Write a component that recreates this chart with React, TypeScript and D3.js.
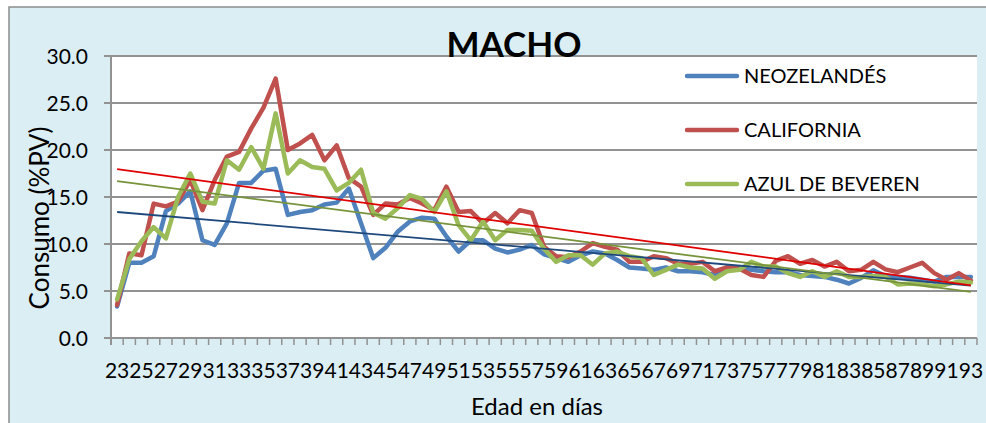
import React from "react";
import * as d3 from "d3";

const days: number[] = d3.range(23, 94);
const seriesNames = ["NEOZELANDÉS", "CALIFORNIA", "AZUL DE BEVEREN"];
const neozelandes = [
  3.35, 8.0, 8.0, 8.7, 13.5, 14.3, 15.6, 10.4, 9.9, 12.2, 16.5, 16.5, 17.8, 18.0, 13.1, 13.4,
  13.6, 14.2, 14.4, 15.9, 12.2, 8.5, 9.6, 11.3, 12.4, 12.8, 12.7, 10.8, 9.2, 10.4, 10.4, 9.5,
  9.1, 9.4, 9.9, 8.9, 8.5, 8.1, 8.8, 9.2, 9.0, 8.3, 7.5, 7.4, 7.25, 7.5, 7.1, 7.1, 7.0, 6.7,
  7.5, 7.5, 7.25, 7.1, 7.0, 7.0, 6.7, 6.6, 6.5, 6.2, 5.8, 6.4, 7.2, 6.6, 6.5, 6.4, 6.2, 6.0,
  6.5, 6.5, 6.5,
];
const california = [
  3.5, 9.0, 8.8, 14.3, 14.0, 14.5, 16.8, 13.6, 16.8, 19.3, 19.8, 22.3, 24.5, 27.6, 20.0, 20.7,
  21.6, 18.9, 20.5, 17.0, 16.1, 13.1, 14.3, 14.2, 14.9, 14.3, 13.6, 16.1, 13.4, 13.5, 12.2,
  13.3, 12.2, 13.6, 13.3, 9.7, 8.7, 8.6, 9.2, 10.1, 9.7, 9.4, 8.1, 8.1, 8.7, 8.5, 7.9, 7.9,
  8.1, 7.1, 7.5, 7.4, 6.7, 6.5, 8.2, 8.7, 7.9, 8.3, 7.6, 8.1, 7.1, 7.25, 8.1, 7.3, 7.0, 7.5,
  8.0, 6.9, 6.2, 6.9, 6.1,
];
const azulBeveren = [
  4.1, 8.4, 10.3, 11.8, 10.6, 15.0, 17.5, 14.5, 14.3, 18.9, 17.9, 20.3, 18.0, 23.9, 17.5, 18.9,
  18.2, 18.0, 15.7, 16.5, 17.9, 13.3, 12.7, 13.8, 15.2, 14.8, 13.4, 15.6, 12.0, 10.4, 12.4,
  10.4, 11.5, 11.5, 11.4, 9.5, 8.1, 8.8, 8.8, 7.8, 9.0, 9.2, 8.7, 8.5, 6.7, 7.25, 7.8, 7.5,
  7.4, 6.3, 7.1, 7.25, 8.1, 7.6, 7.6, 6.9, 6.5, 7.1, 6.5, 7.1, 6.5, 6.5, 6.6, 6.5, 5.7, 5.8,
  5.7, 5.5, 5.7, 6.0, 5.9,
];
const yTicks = [0, 5, 10, 15, 20, 25, 30];
const seriesColors = ["#4F81BD", "#C0504D", "#9BBB59"];
const trendColors = ["#1F497D", "#E00000", "#77933C"];

const W = 986;
const H = 423;
const plot = { left: 111, right: 977, top: 56, bottom: 338 };
const FONT = "Lato, 'Open Sans', sans-serif";

function regression(vals: number[]) {
  const n = vals.length;
  const xs = vals.map((_, i) => i);
  const mx = d3.mean(xs) as number;
  const my = d3.mean(vals) as number;
  let num = 0;
  let den = 0;
  xs.forEach((x, i) => {
    num += (x - mx) * (vals[i] - my);
    den += (x - mx) * (x - mx);
  });
  const b = num / den;
  const a = my - b * mx;
  return [a, a + b * (n - 1)];
}

export default function App() {
  const allSeries = [neozelandes, california, azulBeveren];
  const x = d3
    .scaleBand<number>()
    .domain(days)
    .range([plot.left, plot.right])
    .paddingInner(0)
    .paddingOuter(0);
  const bw = x.bandwidth();
  const cx = (d: number) => (x(d) as number) + bw / 2;
  const y = d3.scaleLinear().domain([0, 30]).range([plot.bottom, plot.top]);
  const line = d3
    .line<number>()
    .x((_, i) => cx(days[i]))
    .y((v) => y(v));

  const tickBounds = d3.range(days.length + 1).map((i) => plot.left + i * bw);

  return (
    <svg
      width={W}
      height={H}
      style={{ position: "absolute", left: 0, top: 0, background: "#ffffff" }}
      fontFamily={FONT}
    >
      <rect x={9} y={7} width={990} height={430} fill="#DBEEF4" stroke="#8C8C8C" strokeWidth={1.5} />
      <rect
        x={plot.left}
        y={plot.top}
        width={plot.right - plot.left}
        height={plot.bottom - plot.top}
        fill="#ffffff"
      />
      {yTicks.map((t) => (
        <g key={t}>
          <line x1={plot.left - 7} x2={plot.right} y1={y(t)} y2={y(t)} stroke="#929292" strokeWidth={2} />
          <text x={88} y={y(t)} dy="0.36em" textAnchor="end" fontSize={21} fill="#000">
            {t.toFixed(1)}
          </text>
        </g>
      ))}
      <line x1={plot.left} x2={plot.left} y1={plot.top} y2={plot.bottom + 7} stroke="#929292" strokeWidth={2} />
      {tickBounds.map((tx, i) => (
        <line key={i} x1={tx} x2={tx} y1={plot.bottom} y2={plot.bottom + 7} stroke="#929292" strokeWidth={1.5} />
      ))}
      {days
        .filter((_, i) => i % 2 === 0)
        .map((d) => (
          <text key={d} x={cx(d)} y={378} textAnchor="middle" fontSize={21} fill="#000">
            {d}
          </text>
        ))}
      {allSeries.map((s, k) => (
        <path
          key={k}
          d={line(s) || ""}
          fill="none"
          stroke={seriesColors[k]}
          strokeWidth={4.5}
          strokeLinejoin="round"
          strokeLinecap="round"
        />
      ))}
      {allSeries.map((s, k) => {
        const [a, b] = regression(s);
        return (
          <line
            key={"t" + k}
            x1={cx(days[0])}
            x2={cx(days[days.length - 1])}
            y1={y(a)}
            y2={y(b)}
            stroke={trendColors[k]}
            strokeWidth={1.8}
          />
        );
      })}
      <text x={514} y={57} textAnchor="middle" fontSize={35} fontWeight="bold" fill="#000">
        MACHO
      </text>
      {seriesNames.map((n, k) => (
        <g key={n}>
          <line
            x1={687}
            x2={737}
            y1={76 + k * 54}
            y2={76 + k * 54}
            stroke={seriesColors[k]}
            strokeWidth={4.5}
            strokeLinecap="round"
          />
          <text x={744} y={76 + k * 54} dy="0.36em" fontSize={20} fill="#000">
            {n}
          </text>
        </g>
      ))}
      <text
        transform={`translate(40,218) rotate(-90)`}
        textAnchor="middle"
        dy="0.36em"
        fontSize={26}
        fill="#000"
      >
        Consumo (%PV)
      </text>
      <text x={537} y={415} textAnchor="middle" fontSize={24} fill="#000">
        Edad en días
      </text>
    </svg>
  );
}
